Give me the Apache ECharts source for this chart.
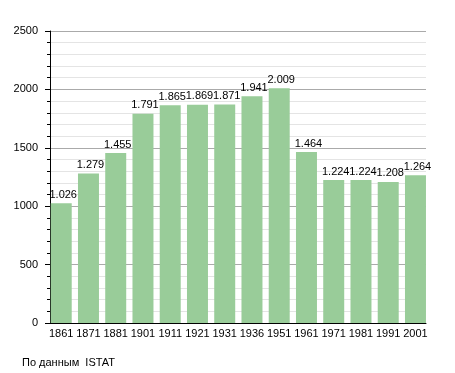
<!DOCTYPE html>
<html><head><meta charset="utf-8">
<script src="https://cdn.jsdelivr.net/npm/echarts@6/dist/echarts.min.js"></script>
<style>html,body{margin:0;padding:0;background:#fff}#c{width:455px;height:373px}</style>
</head><body><div id="c"></div>
<script>
const years = ['1861','1871','1881','1901','1911','1921','1931','1936','1951','1961','1971','1981','1991','2001'];
const population = [1026,1279,1455,1791,1865,1869,1871,1941,2009,1464,1224,1224,1208,1264];
const sourceText = 'По данным  ISTAT';

const chart = echarts.init(document.getElementById('c'), null, {renderer:'canvas'});
const font = 'Liberation Sans, Arial, sans-serif';
chart.setOption({
  animation:false,
  backgroundColor:'#fff',
  grid:[
    {left:50,right:29,top:31,bottom:50,containLabel:false},
    {left:47.6,width:381.5,top:31,bottom:50,containLabel:false}
  ],
  xAxis:[
    {type:'category',gridIndex:0,data:years,
      axisLine:{lineStyle:{color:'#000',width:1}},
      axisTick:{show:false},axisLabel:{show:false},splitLine:{show:false}},
    {type:'category',gridIndex:1,data:years,
      axisLine:{show:false},axisTick:{show:false},
      axisLabel:{color:'#000',fontSize:11,fontFamily:font,margin:5,interval:0},
      splitLine:{show:false}}
  ],
  yAxis:[
    {type:'value',gridIndex:0,min:0,max:2500,interval:500,
      axisLine:{show:true,lineStyle:{color:'#000',width:1}},
      axisTick:{show:true,length:5,lineStyle:{color:'#000'}},
      minorTick:{show:true,splitNumber:5,length:3,lineStyle:{color:'#000'}},
      axisLabel:{color:'#000',fontSize:11,fontFamily:font,margin:12,formatter:v=>String(v)},
      splitLine:{show:true,lineStyle:{color:'#aaaaaa',width:1}},
      minorSplitLine:{show:true,lineStyle:{color:'#e4e4e4',width:1}}},
    {type:'value',gridIndex:1,min:0,max:2500,interval:500,show:false,
      splitLine:{show:false}}
  ],
  series:[{type:'bar',xAxisIndex:1,yAxisIndex:1,data:population,barCategoryGap:'23%',
    itemStyle:{color:'#99cc99'},
    label:{show:true,position:'top',distance:3,offset:[2,0],color:'#000',fontSize:11,fontFamily:font,
      formatter:p=>{const v=p.value;return v>=1000?Math.floor(v/1000)+'.'+String(v%1000).padStart(3,'0'):String(v);}}}],
  graphic:[{type:'text',left:22,top:357,style:{text:sourceText,fill:'#000',font:'11px '+font}}]
});
</script></body></html>
